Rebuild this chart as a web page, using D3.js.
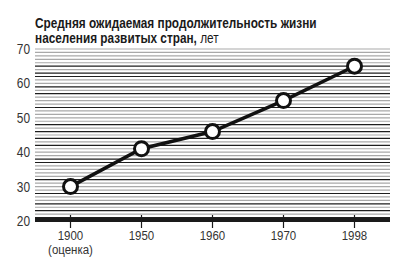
<!DOCTYPE html>
<html lang="ru">
<head>
<meta charset="UTF-8">
<title>Средняя ожидаемая продолжительность жизни</title>
<script src="https://d3js.org/d3.v7.min.js"></script>
<style>
  body { margin: 0; background: #fff; }
  text { font-family: "Liberation Sans Narrow", "Arial Narrow", "Liberation Sans", sans-serif; }
</style>
</head>
<body>
<script>
// data
var years = ["1900", "1950", "1960", "1970", "1998"];
var yearNotes = ["(оценка)", "", "", "", ""];
var lifeExp = [30, 41, 46, 55, 65];
var yTicks = [20, 30, 40, 50, 60, 70];
// decorative background rules: black ones, the rest are grey
var darkRules = [21, 23, 25, 28, 32, 37, 38, 42, 44, 46, 48, 53, 57, 59, 62, 63, 65];

var w = 420, h = 262;
var plotLeft = 35, plotRight = 390, plotTop = 49, plotBottom = 221;

var svg = d3.select("body").append("svg")
    .attr("width", w)
    .attr("height", h);

var x = d3.scalePoint()
    .domain(years)
    .range([plotLeft, plotRight])
    .padding(0.5);

var y = d3.scaleLinear()
    .domain([20, 70])
    .range([plotBottom, plotTop]);

// title (squeezed to look like a narrow face)
var title = svg.append("text")
    .attr("transform", "translate(35,28) scale(0.815,1)")
    .style("font-size", "14.5px")
    .style("font-weight", "bold")
    .attr("fill", "#1a1a1a");
title.append("tspan").attr("x", 0).text("Средняя ожидаемая продолжительность жизни");
title.append("tspan").attr("x", 0).attr("dy", 15).text("населения развитых стран,");
title.append("tspan").style("font-weight", "normal").text(" лет");

// background rules
var rules = d3.range(21, 71);
svg.append("g").selectAll("line")
    .data(rules)
    .join("line")
    .attr("x1", plotLeft)
    .attr("x2", plotRight)
    .attr("y1", d => y(d))
    .attr("y2", d => y(d))
    .attr("stroke", d => darkRules.indexOf(d) >= 0 ? "#1e1e1e" : "#a9a9a9")
    .attr("stroke-width", 1.2);

// baseline
svg.append("rect")
    .attr("x", plotLeft)
    .attr("y", y(20) - 3)
    .attr("width", plotRight - plotLeft)
    .attr("height", 4)
    .attr("fill", "#1a1a1a");

// y labels
svg.append("g").selectAll("text")
    .data(yTicks)
    .join("text")
    .attr("transform", d => "translate(30," + (y(d) + 5) + ") scale(0.85,1)")
    .attr("text-anchor", "end")
    .style("font-size", "14px")
    .attr("fill", "#333")
    .text(d => d);

// x ticks and labels
var xg = svg.append("g");
xg.selectAll("line")
    .data(years)
    .join("line")
    .attr("x1", d => x(d))
    .attr("x2", d => x(d))
    .attr("y1", y(20) - 6)
    .attr("y2", y(20) + 7)
    .attr("stroke", "#1a1a1a")
    .attr("stroke-width", 1.2);
xg.selectAll("text.yr")
    .data(years)
    .join("text")
    .attr("class", "yr")
    .attr("transform", d => "translate(" + x(d) + ",240) scale(0.85,1)")
    .attr("text-anchor", "middle")
    .style("font-size", "13.5px")
    .attr("fill", "#333")
    .text(d => d);
xg.selectAll("text.note")
    .data(years)
    .join("text")
    .attr("class", "note")
    .attr("transform", d => "translate(" + x(d) + ",254) scale(0.85,1)")
    .attr("text-anchor", "middle")
    .style("font-size", "13.5px")
    .attr("fill", "#333")
    .text((d, i) => yearNotes[i]);

// line and markers
var pts = years.map((d, i) => [x(d), y(lifeExp[i])]);
svg.append("path")
    .attr("d", d3.line()(pts))
    .attr("fill", "none")
    .attr("stroke", "#111")
    .attr("stroke-width", 3.5);

svg.append("g").selectAll("circle")
    .data(pts)
    .join("circle")
    .attr("cx", d => d[0])
    .attr("cy", d => d[1])
    .attr("r", 7)
    .attr("fill", "#fff")
    .attr("stroke", "#111")
    .attr("stroke-width", 3);
</script>
</body>
</html>
